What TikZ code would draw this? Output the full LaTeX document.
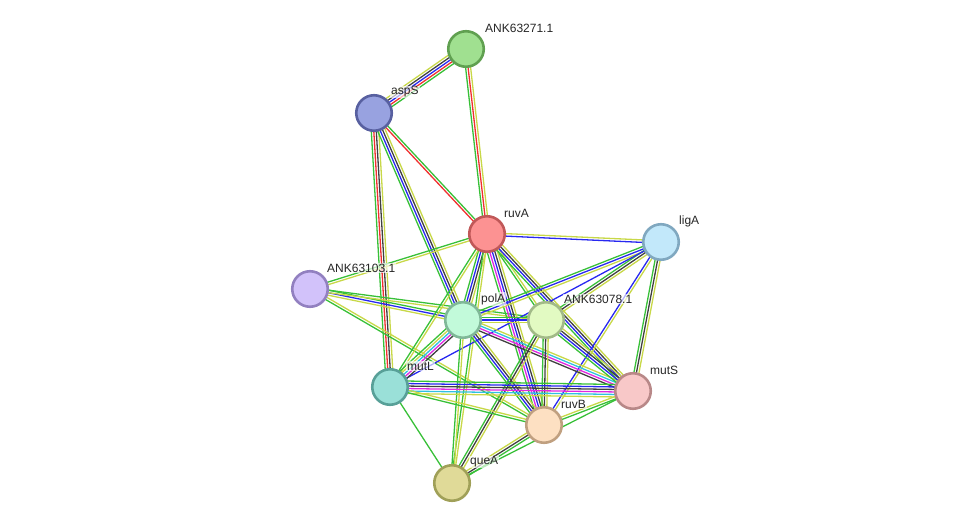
\documentclass[tikz,border=0pt]{standalone}
\usepackage{fontspec}
\setmainfont{Liberation Sans}
\usetikzlibrary{calc}
\pgfdeclarelayer{background}
\pgfsetlayers{background,main}
\definecolor{eG}{HTML}{38C038}
\definecolor{eR}{HTML}{F03030}
\definecolor{eB}{HTML}{2828F0}
\definecolor{eK}{HTML}{404040}
\definecolor{eY}{HTML}{C8D848}
\definecolor{eM}{HTML}{E028E0}
\definecolor{eC}{HTML}{30C0E0}
\tikzset{
  colG/.style={draw=eG}, colR/.style={draw=eR}, colB/.style={draw=eB},
  colK/.style={draw=eK}, colY/.style={draw=eY}, colM/.style={draw=eM},
  colC/.style={draw=eC},
  prot/.style={circle, minimum size=35.5pt, inner sep=0pt, line width=2.6pt},
  lab/.style={anchor=west, font=\fontsize{12}{14}\selectfont, inner sep=1pt,
    fill=white, fill opacity=0.65, text opacity=1, text=black!85}
}
\newcommand\medge[3]{%
  \gdef\ecount{0}%
  \foreach \c in {#3}{\pgfmathtruncatemacro\tmp{\ecount+1}\global\let\ecount\tmp}%
  \foreach \c [count=\i] in {#3}{%
    \draw[line width=1.3pt, col\c] let \p1=($(#2.center)-(#1.center)$),
      \n1={atan2(\y1,\x1)+90}, \n2={(\i-1-(\ecount-1)/2)*2.5} in
      ($(#1.center)+(\n1:\n2 pt)$) -- ($(#2.center)+(\n1:\n2 pt)$);
  }%
}
\begin{document}
\begin{tikzpicture}[x=1pt,y=-1pt]
\useasboundingbox (0,0) rectangle (976,529);
% protein nodes
\node[prot, fill={rgb,255:red,160;green,224;blue,144}, draw={rgb,255:red,96;green,160;blue,80}] (ank271) at (466,49) {};
\node[prot, fill={rgb,255:red,152;green,162;blue,224}, draw={rgb,255:red,88;green,96;blue,160}] (asps) at (374,113) {};
\node[prot, fill={rgb,255:red,252;green,146;blue,146}, draw={rgb,255:red,192;green,88;blue,88}] (ruva) at (487,234) {};
\node[prot, fill={rgb,255:red,194;green,232;blue,250}, draw={rgb,255:red,128;green,168;blue,192}] (liga) at (661,242) {};
\node[prot, fill={rgb,255:red,210;green,194;blue,250}, draw={rgb,255:red,146;green,128;blue,192}] (ank103) at (310,289) {};
\node[prot, fill={rgb,255:red,194;green,250;blue,218}, draw={rgb,255:red,128;green,184;blue,152}] (pola) at (463,320) {};
\node[prot, fill={rgb,255:red,226;green,250;blue,194}, draw={rgb,255:red,162;green,186;blue,136}] (ank078) at (546,320) {};
\node[prot, fill={rgb,255:red,154;green,224;blue,216}, draw={rgb,255:red,88;green,160;blue,152}] (mutl) at (390,387) {};
\node[prot, fill={rgb,255:red,248;green,200;blue,200}, draw={rgb,255:red,184;green,136;blue,136}] (muts) at (633,391) {};
\node[prot, fill={rgb,255:red,253;green,224;blue,194}, draw={rgb,255:red,192;green,160;blue,128}] (ruvb) at (544,425) {};
\node[prot, fill={rgb,255:red,224;green,218;blue,152}, draw={rgb,255:red,160;green,160;blue,88}] (quea) at (452,483) {};
% labels
\node[lab] (l-ank271) at (484,28) {ANK63271.1};
\node[lab] (l-asps) at (390,92) {aspS};
\node[lab] (l-ruva) at (503,213) {ruvA};
\node[lab] (l-liga) at (678,221) {ligA};
\node[lab] (l-ank103) at (326,268) {ANK63103.1};
\node[lab] (l-pola) at (480,299) {polA};
\node[lab] (l-ank078) at (563,299) {ANK63078.1};
\node[lab] (l-mutl) at (406,366) {mutL};
\node[lab] (l-muts) at (649,370) {mutS};
\node[lab] (l-ruvb) at (560,404) {ruvB};
\node[lab] (l-quea) at (469,462) {queA};
% edges
\begin{pgfonlayer}{background}
\medge{asps}{ank271}{G,R,B,K,Y}
\medge{ank271}{ruva}{G,R,Y}
\medge{asps}{ruva}{R,G}
\medge{asps}{mutl}{G,R,K,Y}
\medge{asps}{pola}{G,B,K,Y}
\medge{ank103}{ruva}{Y,G}
\medge{ank103}{pola}{Y,B,G}
\medge{ank103}{ank078}{Y,G}
\medge{ank103}{ruvb}{G,Y}
\medge{ruva}{liga}{B,Y}
\medge{ruva}{pola}{G,B,K,Y}
\medge{ruva}{ank078}{G,Y}
\medge{ruva}{mutl}{G,Y}
\medge{ruva}{quea}{G,Y}
\medge{ruva}{ruvb}{G,M,B,K,Y}
\medge{ruva}{muts}{G,B,K,Y}
\medge{liga}{pola}{G,B,Y}
\medge{liga}{ank078}{G,K,Y}
\medge{liga}{muts}{G,K,Y}
\medge{liga}{ruvb}{B,Y}
\medge{liga}{mutl}{B}
\medge{pola}{ank078}{Y,B,G}
\medge{pola}{mutl}{G,Y,C,M,K}
\medge{pola}{muts}{K,M,C,Y}
\medge{pola}{ruvb}{G,B,K,Y}
\medge{pola}{quea}{G,Y}
\medge{ank078}{quea}{G,K,Y}
\medge{ank078}{ruvb}{G,K,Y}
\medge{ank078}{muts}{G,B,K,Y}
\medge{mutl}{muts}{Y,C,M,K,B,G}
\medge{mutl}{ruvb}{G,Y}
\medge{mutl}{quea}{G}
\medge{ruvb}{muts}{G,Y}
\medge{ruvb}{quea}{Y,K,G}
\medge{muts}{quea}{G}
\end{pgfonlayer}
\end{tikzpicture}
\end{document}
